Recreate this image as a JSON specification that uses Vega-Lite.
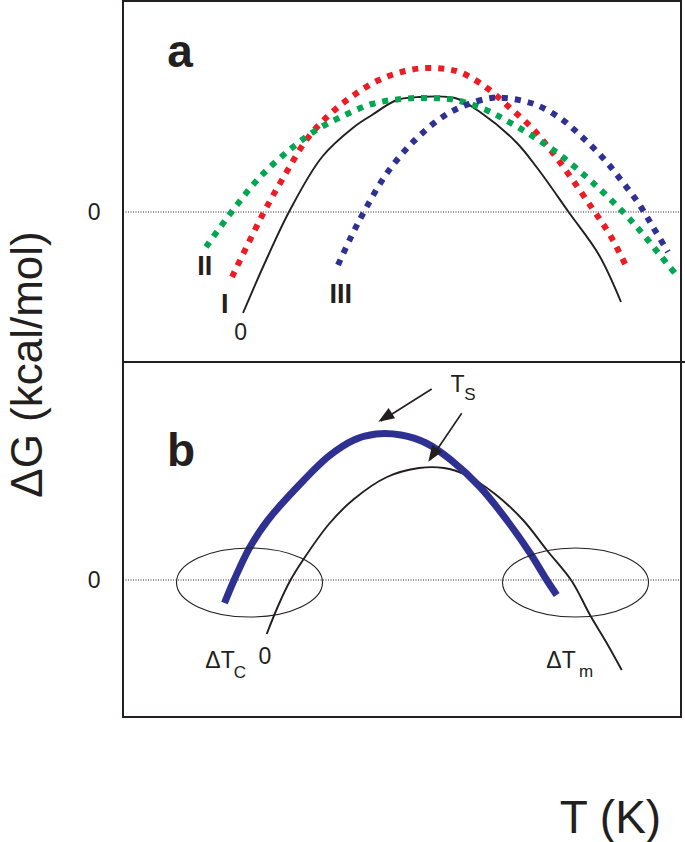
{
  "$schema": "https://vega.github.io/schema/vega-lite/v6.json",
  "width": 558,
  "height": 716,
  "autosize": {"type": "none"},
  "padding": {"left": 123, "top": 1, "right": 4, "bottom": 125},
  "background": "white",
  "config": {"view": {"stroke": "#231f20", "strokeWidth": 2}, "font": "Liberation Sans"},
  "datasets": {
    "curves": [
      {"curve": "0a", "t": 120, "g": 404}, {"curve": "0a", "t": 140, "g": 450}, {"curve": "0a", "t": 167, "g": 507},
      {"curve": "0a", "t": 199, "g": 560}, {"curve": "0a", "t": 231, "g": 590}, {"curve": "0a", "t": 249, "g": 602},
      {"curve": "0a", "t": 274, "g": 617}, {"curve": "0a", "t": 297, "g": 620}, {"curve": "0a", "t": 332, "g": 619},
      {"curve": "0a", "t": 357, "g": 605}, {"curve": "0a", "t": 393, "g": 575}, {"curve": "0a", "t": 415, "g": 548},
      {"curve": "0a", "t": 445.6, "g": 505}, {"curve": "0a", "t": 476, "g": 462}, {"curve": "0a", "t": 498, "g": 415},

      {"curve": "I", "t": 109, "g": 440}, {"curve": "I", "t": 141, "g": 505}, {"curve": "I", "t": 163, "g": 544},
      {"curve": "I", "t": 184, "g": 578}, {"curve": "I", "t": 206, "g": 602}, {"curve": "I", "t": 231, "g": 622},
      {"curve": "I", "t": 256, "g": 637}, {"curve": "I", "t": 282, "g": 646}, {"curve": "I", "t": 303, "g": 649},
      {"curve": "I", "t": 323, "g": 648}, {"curve": "I", "t": 339, "g": 644}, {"curve": "I", "t": 364, "g": 629},
      {"curve": "I", "t": 386, "g": 610}, {"curve": "I", "t": 408, "g": 590}, {"curve": "I", "t": 426, "g": 569},
      {"curve": "I", "t": 444, "g": 545}, {"curve": "I", "t": 469, "g": 509}, {"curve": "I", "t": 487, "g": 482},
      {"curve": "I", "t": 505, "g": 447},

      {"curve": "II", "t": 83, "g": 470}, {"curve": "II", "t": 110, "g": 507}, {"curve": "II", "t": 137, "g": 540},
      {"curve": "II", "t": 170, "g": 570}, {"curve": "II", "t": 195, "g": 588}, {"curve": "II", "t": 220, "g": 601},
      {"curve": "II", "t": 249, "g": 613}, {"curve": "II", "t": 278, "g": 618}, {"curve": "II", "t": 303, "g": 619},
      {"curve": "II", "t": 332, "g": 617}, {"curve": "II", "t": 361, "g": 608}, {"curve": "II", "t": 386, "g": 595},
      {"curve": "II", "t": 411, "g": 580}, {"curve": "II", "t": 437, "g": 562}, {"curve": "II", "t": 469, "g": 535},
      {"curve": "II", "t": 501, "g": 504}, {"curve": "II", "t": 519, "g": 484}, {"curve": "II", "t": 537, "g": 462},
      {"curve": "II", "t": 555, "g": 440},

      {"curve": "III", "t": 215, "g": 452}, {"curve": "III", "t": 228, "g": 480}, {"curve": "III", "t": 242, "g": 507},
      {"curve": "III", "t": 264, "g": 544}, {"curve": "III", "t": 292, "g": 577}, {"curve": "III", "t": 321, "g": 601},
      {"curve": "III", "t": 343, "g": 612}, {"curve": "III", "t": 368, "g": 619}, {"curve": "III", "t": 382, "g": 619},
      {"curve": "III", "t": 411, "g": 613}, {"curve": "III", "t": 437, "g": 599}, {"curve": "III", "t": 458, "g": 581},
      {"curve": "III", "t": 480, "g": 559}, {"curve": "III", "t": 498, "g": 537}, {"curve": "III", "t": 516, "g": 513},
      {"curve": "III", "t": 530, "g": 490}, {"curve": "III", "t": 545, "g": 465},

      {"curve": "0b", "t": 143.7, "g": 83}, {"curve": "0b", "t": 155.5, "g": 112}, {"curve": "0b", "t": 167, "g": 136},
      {"curve": "0b", "t": 180, "g": 157}, {"curve": "0b", "t": 206, "g": 193}, {"curve": "0b", "t": 231, "g": 218},
      {"curve": "0b", "t": 264, "g": 240}, {"curve": "0b", "t": 296, "g": 249}, {"curve": "0b", "t": 321, "g": 249},
      {"curve": "0b", "t": 343, "g": 242}, {"curve": "0b", "t": 372, "g": 223}, {"curve": "0b", "t": 400, "g": 197},
      {"curve": "0b", "t": 423.7, "g": 167}, {"curve": "0b", "t": 448.7, "g": 136}, {"curve": "0b", "t": 467, "g": 102},
      {"curve": "0b", "t": 483.7, "g": 74}, {"curve": "0b", "t": 498.7, "g": 47},

      {"curve": "Ts", "t": 101.5, "g": 114}, {"curve": "Ts", "t": 112, "g": 139}, {"curve": "Ts", "t": 127, "g": 170},
      {"curve": "Ts", "t": 145, "g": 197}, {"curve": "Ts", "t": 181, "g": 237}, {"curve": "Ts", "t": 206, "g": 261},
      {"curve": "Ts", "t": 231, "g": 277}, {"curve": "Ts", "t": 253, "g": 283}, {"curve": "Ts", "t": 278, "g": 282},
      {"curve": "Ts", "t": 303, "g": 274}, {"curve": "Ts", "t": 328, "g": 257}, {"curve": "Ts", "t": 357, "g": 230},
      {"curve": "Ts", "t": 383.7, "g": 197}, {"curve": "Ts", "t": 407, "g": 164}, {"curve": "Ts", "t": 423.7, "g": 137},
      {"curve": "Ts", "t": 433.7, "g": 122}
    ]
  },
  "encoding": {
    "x": {
      "field": "t", "type": "quantitative",
      "scale": {"domain": [0, 558], "nice": false, "zero": false},
      "axis": {
        "title": "T (K)", "labels": false, "ticks": false, "domain": false, "grid": false,
        "titleFontSize": 46, "titleFont": "Liberation Sans", "titleFontWeight": "normal", "titleColor": "#231f20",
        "titleX": 487, "titleY": 115, "titleAlign": "center", "titleBaseline": "alphabetic"
      }
    },
    "y": {
      "field": "g", "type": "quantitative",
      "scale": {"domain": [0, 716], "nice": false, "zero": false},
      "axis": {
        "title": "ΔG (kcal/mol)", "values": [137, 505], "labelExpr": "'0'",
        "ticks": false, "tickSize": 0, "domain": false, "grid": false,
        "labelFontSize": 23, "labelPadding": 23, "labelColor": "#231f20", "labelFont": "Liberation Sans",
        "titleFontSize": 44, "titleFont": "Liberation Sans", "titleFontWeight": "normal", "titleColor": "#231f20",
        "titleX": -95, "titleY": 363, "titleAngle": -90, "titleAlign": "center", "titleBaseline": "middle"
      }
    }
  },
  "layer": [
    {
      "data": {"values": [{"t": 0, "t2": 558, "g": 505}, {"t": 0, "t2": 558, "g": 137}]},
      "mark": {"type": "rule", "color": "#231f20", "strokeWidth": 1, "strokeDash": [1, 1.5]},
      "encoding": {"x2": {"field": "t2"}}
    },
    {
      "data": {"values": [{"t": 0, "t2": 562, "g": 355}]},
      "mark": {"type": "rule", "color": "#231f20", "strokeWidth": 2},
      "encoding": {"x2": {"field": "t2"}}
    },
    {
      "data": {"name": "curves"},
      "transform": [{"filter": "datum.curve === '0a' || datum.curve === '0b'"}],
      "mark": {"type": "line", "color": "#231f20", "strokeWidth": 1.9, "interpolate": "catmull-rom"},
      "encoding": {"detail": {"field": "curve"}}
    },
    {
      "data": {"name": "curves"},
      "transform": [{"filter": "datum.curve === 'I' || datum.curve === 'II' || datum.curve === 'III'"}],
      "mark": {"type": "line", "strokeWidth": 6, "strokeDash": [6, 7], "strokeCap": "butt", "interpolate": "catmull-rom"},
      "encoding": {
        "stroke": {"field": "curve", "type": "nominal", "scale": {"domain": ["I", "II", "III"], "range": ["#ed1c24", "#00a651", "#2e3192"]}, "legend": null}
      }
    },
    {
      "data": {"name": "curves"},
      "transform": [{"filter": "datum.curve === 'Ts'"}],
      "mark": {"type": "line", "color": "#2e3192", "strokeWidth": 7, "strokeCap": "butt", "interpolate": "catmull-rom"}
    },
    {
      "data": {"values": [{"t": 126.5, "g": 134.5}, {"t": 452.5, "g": 134.5}]},
      "mark": {
        "type": "point", "filled": false, "stroke": "#231f20", "strokeWidth": 1.1, "opacity": 1, "size": 21316,
        "shape": "M 1 0 C 1 0.261 0.5523 0.4726 0 0.4726 C -0.5523 0.4726 -1 0.261 -1 0 C -1 -0.261 -0.5523 -0.4726 0 -0.4726 C 0.5523 -0.4726 1 -0.261 1 0 Z"
      }
    },
    {
      "data": {"values": [{"t": 308.7, "g": 328, "t2": 258, "g2": 296}, {"t": 338.7, "g": 303.7, "t2": 307, "g2": 257}]},
      "mark": {"type": "rule", "color": "#231f20", "strokeWidth": 1.6},
      "encoding": {"x2": {"field": "t2"}, "y2": {"field": "g2"}}
    },
    {
      "data": {"values": [{"t": 255.3, "g": 295.3}]},
      "mark": {"type": "point", "filled": true, "color": "#231f20", "opacity": 1, "size": 256, "angle": 237.8, "shape": "M 0 0 L 0.75 2 L -0.75 2 Z"}
    },
    {
      "data": {"values": [{"t": 305.3, "g": 255.3}]},
      "mark": {"type": "point", "filled": true, "color": "#231f20", "opacity": 1, "size": 256, "angle": 213.6, "shape": "M 0 0 L 0.75 2 L -0.75 2 Z"}
    },
    {
      "data": {"values": [{"label": "a", "t": 57, "g": 650}, {"label": "b", "t": 58, "g": 251}]},
      "mark": {"type": "text", "fontSize": 46, "fontWeight": "bold", "color": "#231f20", "align": "center", "baseline": "alphabetic"},
      "encoding": {"text": {"field": "label"}}
    },
    {
      "data": {"values": [{"label": "II", "t": 81.7, "g": 442}, {"label": "I", "t": 101.7, "g": 404}, {"label": "III", "t": 217.7, "g": 414}]},
      "mark": {"type": "text", "fontSize": 27, "fontWeight": "bold", "color": "#231f20", "align": "center", "baseline": "alphabetic"},
      "encoding": {"text": {"field": "label"}}
    },
    {
      "data": {"values": [
        {"label": "0", "t": 117.7, "g": 377}, {"label": "0", "t": 142, "g": 53},
        {"label": "ΔT", "t": 97, "g": 49}, {"label": "ΔT", "t": 438, "g": 49}, {"label": "T", "t": 334.5, "g": 325}
      ]},
      "mark": {"type": "text", "fontSize": 23, "color": "#231f20", "align": "center", "baseline": "alphabetic"},
      "encoding": {"text": {"field": "label"}}
    },
    {
      "data": {"values": [{"label": "C", "t": 117, "g": 39}, {"label": "m", "t": 463, "g": 40}, {"label": "S", "t": 347, "g": 317}]},
      "mark": {"type": "text", "fontSize": 17, "color": "#231f20", "align": "center", "baseline": "alphabetic"},
      "encoding": {"text": {"field": "label"}}
    }
  ]
}
